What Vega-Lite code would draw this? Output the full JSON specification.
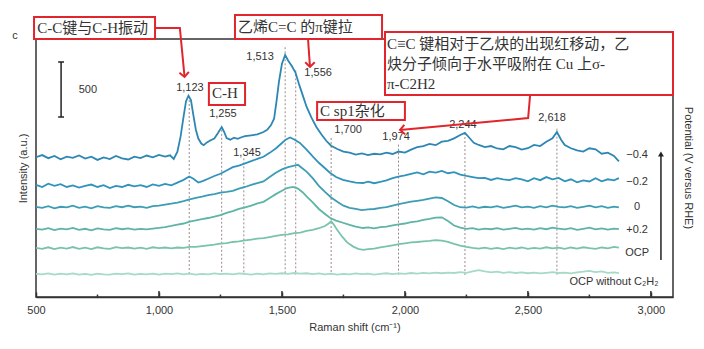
{
"$schema":"https://vega.github.io/schema/vega-lite/v6.json",
"width":637,"height":258,
"autosize":{"type":"none"},
"padding":{"left":36,"top":39,"right":31,"bottom":52},
"config":{"font":"Liberation Sans","view":{"stroke":"#333","strokeWidth":1.5},"axis":{"grid":false},
 "axisX":{"tickSize":-5,"tickColor":"#333","tickWidth":1.5,"labelPadding":12,"labelFontSize":11,"labelColor":"#333","labelFlush":false,"titleFontSize":11,"titleFontWeight":"normal","titleColor":"#333","titlePadding":6,"domainColor":"#333","domainWidth":1.5,"format":","},
 "axisY":{"labels":false,"ticks":false,"domain":false,"titleFontSize":11,"titleFontWeight":"normal","titleColor":"#333","titlePadding":8}},
"datasets":{
"a":[{"w":500,"v":1270},{"w":525,"v":1290},{"w":550,"v":1262},{"w":575,"v":1282},{"w":600,"v":1252},{"w":625,"v":1276},{"w":650,"v":1264},{"w":675,"v":1286},{"w":700,"v":1258},{"w":725,"v":1276},{"w":750,"v":1246},{"w":775,"v":1268},{"w":800,"v":1254},{"w":825,"v":1282},{"w":850,"v":1260},{"w":875,"v":1250},{"w":900,"v":1276},{"w":925,"v":1262},{"w":950,"v":1286},{"w":975,"v":1270},{"w":1000,"v":1292},{"w":1025,"v":1276},{"w":1045,"v":1288},{"w":1060,"v":1255},{"w":1075,"v":1320},{"w":1088,"v":1460},{"w":1100,"v":1640},{"w":1110,"v":1780},{"w":1120,"v":1830},{"w":1130,"v":1790},{"w":1140,"v":1650},{"w":1150,"v":1520},{"w":1160,"v":1440},{"w":1172,"v":1395},{"w":1182,"v":1380},{"w":1195,"v":1405},{"w":1210,"v":1425},{"w":1225,"v":1440},{"w":1240,"v":1490},{"w":1255,"v":1545},{"w":1265,"v":1500},{"w":1275,"v":1445},{"w":1290,"v":1430},{"w":1305,"v":1448},{"w":1320,"v":1438},{"w":1335,"v":1452},{"w":1350,"v":1462},{"w":1375,"v":1470},{"w":1400,"v":1478},{"w":1425,"v":1500},{"w":1440,"v":1520},{"w":1455,"v":1560},{"w":1468,"v":1620},{"w":1478,"v":1780},{"w":1488,"v":1960},{"w":1500,"v":2120},{"w":1513,"v":2200},{"w":1525,"v":2150},{"w":1540,"v":2100},{"w":1555,"v":2040},{"w":1570,"v":1930},{"w":1585,"v":1830},{"w":1600,"v":1730},{"w":1620,"v":1630},{"w":1640,"v":1545},{"w":1660,"v":1480},{"w":1680,"v":1420},{"w":1700,"v":1375},{"w":1725,"v":1345},{"w":1750,"v":1322},{"w":1775,"v":1312},{"w":1800,"v":1295},{"w":1825,"v":1305},{"w":1850,"v":1290},{"w":1875,"v":1302},{"w":1900,"v":1296},{"w":1925,"v":1312},{"w":1950,"v":1300},{"w":1974,"v":1322},{"w":2000,"v":1312},{"w":2025,"v":1340},{"w":2050,"v":1362},{"w":2075,"v":1372},{"w":2100,"v":1392},{"w":2125,"v":1380},{"w":2150,"v":1412},{"w":2175,"v":1420},{"w":2200,"v":1442},{"w":2225,"v":1472},{"w":2244,"v":1492},{"w":2260,"v":1452},{"w":2280,"v":1402},{"w":2300,"v":1382},{"w":2325,"v":1362},{"w":2350,"v":1372},{"w":2375,"v":1350},{"w":2400,"v":1342},{"w":2425,"v":1372},{"w":2450,"v":1362},{"w":2475,"v":1340},{"w":2500,"v":1352},{"w":2525,"v":1382},{"w":2550,"v":1372},{"w":2575,"v":1412},{"w":2600,"v":1442},{"w":2618,"v":1500},{"w":2635,"v":1430},{"w":2650,"v":1382},{"w":2675,"v":1352},{"w":2700,"v":1332},{"w":2725,"v":1322},{"w":2750,"v":1352},{"w":2775,"v":1342},{"w":2800,"v":1302},{"w":2825,"v":1312},{"w":2850,"v":1282},{"w":2870,"v":1232}],
"b":[{"w":500,"v":1020},{"w":525,"v":1000},{"w":550,"v":1030},{"w":575,"v":1010},{"w":600,"v":1025},{"w":625,"v":1000},{"w":650,"v":1015},{"w":675,"v":995},{"w":700,"v":1010},{"w":725,"v":1022},{"w":750,"v":1000},{"w":775,"v":1016},{"w":800,"v":990},{"w":825,"v":1010},{"w":850,"v":1000},{"w":875,"v":1020},{"w":900,"v":1005},{"w":925,"v":1016},{"w":950,"v":1000},{"w":975,"v":1024},{"w":1000,"v":1010},{"w":1025,"v":1028},{"w":1050,"v":1015},{"w":1075,"v":1040},{"w":1100,"v":1065},{"w":1123,"v":1095},{"w":1140,"v":1075},{"w":1160,"v":1040},{"w":1180,"v":1055},{"w":1200,"v":1075},{"w":1225,"v":1100},{"w":1250,"v":1120},{"w":1275,"v":1150},{"w":1300,"v":1180},{"w":1325,"v":1195},{"w":1350,"v":1215},{"w":1375,"v":1235},{"w":1400,"v":1255},{"w":1425,"v":1275},{"w":1450,"v":1310},{"w":1475,"v":1350},{"w":1500,"v":1400},{"w":1515,"v":1430},{"w":1533,"v":1450},{"w":1550,"v":1432},{"w":1573,"v":1400},{"w":1600,"v":1340},{"w":1626,"v":1275},{"w":1650,"v":1220},{"w":1675,"v":1170},{"w":1695,"v":1130},{"w":1720,"v":1090},{"w":1748,"v":1065},{"w":1775,"v":1050},{"w":1800,"v":1040},{"w":1830,"v":1036},{"w":1850,"v":1048},{"w":1875,"v":1034},{"w":1900,"v":1046},{"w":1925,"v":1060},{"w":1950,"v":1080},{"w":1974,"v":1095},{"w":2000,"v":1105},{"w":2025,"v":1120},{"w":2050,"v":1132},{"w":2075,"v":1115},{"w":2100,"v":1140},{"w":2125,"v":1130},{"w":2150,"v":1146},{"w":2175,"v":1125},{"w":2200,"v":1135},{"w":2225,"v":1112},{"w":2250,"v":1100},{"w":2275,"v":1090},{"w":2300,"v":1080},{"w":2325,"v":1082},{"w":2350,"v":1064},{"w":2375,"v":1080},{"w":2400,"v":1070},{"w":2425,"v":1062},{"w":2450,"v":1080},{"w":2475,"v":1070},{"w":2500,"v":1052},{"w":2525,"v":1080},{"w":2550,"v":1062},{"w":2575,"v":1090},{"w":2600,"v":1070},{"w":2625,"v":1082},{"w":2650,"v":1052},{"w":2675,"v":1070},{"w":2700,"v":1042},{"w":2725,"v":1060},{"w":2750,"v":1050},{"w":2775,"v":1080},{"w":2800,"v":1052},{"w":2825,"v":1070},{"w":2850,"v":1060},{"w":2870,"v":1080}],
"c":[{"w":500,"v":820},{"w":525,"v":810},{"w":550,"v":826},{"w":575,"v":806},{"w":600,"v":820},{"w":625,"v":814},{"w":650,"v":830},{"w":675,"v":810},{"w":700,"v":822},{"w":725,"v":806},{"w":750,"v":826},{"w":775,"v":814},{"w":800,"v":810},{"w":825,"v":826},{"w":850,"v":816},{"w":875,"v":830},{"w":900,"v":816},{"w":925,"v":822},{"w":950,"v":810},{"w":975,"v":826},{"w":1000,"v":830},{"w":1025,"v":840},{"w":1050,"v":848},{"w":1075,"v":858},{"w":1100,"v":872},{"w":1125,"v":888},{"w":1150,"v":902},{"w":1175,"v":912},{"w":1200,"v":925},{"w":1225,"v":935},{"w":1250,"v":948},{"w":1275,"v":955},{"w":1300,"v":965},{"w":1325,"v":985},{"w":1350,"v":1000},{"w":1375,"v":1020},{"w":1400,"v":1035},{"w":1425,"v":1050},{"w":1450,"v":1090},{"w":1475,"v":1130},{"w":1500,"v":1160},{"w":1525,"v":1180},{"w":1550,"v":1195},{"w":1565,"v":1202},{"w":1580,"v":1175},{"w":1600,"v":1140},{"w":1625,"v":1080},{"w":1650,"v":1010},{"w":1675,"v":955},{"w":1700,"v":905},{"w":1725,"v":865},{"w":1750,"v":830},{"w":1775,"v":810},{"w":1800,"v":800},{"w":1825,"v":790},{"w":1850,"v":796},{"w":1875,"v":800},{"w":1900,"v":810},{"w":1925,"v":816},{"w":1950,"v":830},{"w":1975,"v":845},{"w":2000,"v":855},{"w":2025,"v":866},{"w":2050,"v":874},{"w":2075,"v":882},{"w":2100,"v":895},{"w":2125,"v":906},{"w":2150,"v":900},{"w":2175,"v":870},{"w":2200,"v":836},{"w":2225,"v":816},{"w":2250,"v":812},{"w":2275,"v":824},{"w":2300,"v":810},{"w":2325,"v":820},{"w":2350,"v":814},{"w":2375,"v":826},{"w":2400,"v":810},{"w":2425,"v":820},{"w":2450,"v":830},{"w":2475,"v":815},{"w":2500,"v":822},{"w":2525,"v":810},{"w":2550,"v":826},{"w":2575,"v":815},{"w":2600,"v":830},{"w":2625,"v":820},{"w":2650,"v":814},{"w":2675,"v":826},{"w":2700,"v":810},{"w":2725,"v":820},{"w":2750,"v":830},{"w":2775,"v":815},{"w":2800,"v":825},{"w":2825,"v":810},{"w":2850,"v":822},{"w":2870,"v":815}],
"d":[{"w":500,"v":620},{"w":525,"v":612},{"w":550,"v":626},{"w":575,"v":608},{"w":600,"v":622},{"w":625,"v":614},{"w":650,"v":628},{"w":675,"v":610},{"w":700,"v":620},{"w":725,"v":606},{"w":750,"v":624},{"w":775,"v":614},{"w":800,"v":610},{"w":825,"v":626},{"w":850,"v":616},{"w":875,"v":624},{"w":900,"v":612},{"w":925,"v":620},{"w":950,"v":614},{"w":975,"v":622},{"w":1000,"v":628},{"w":1025,"v":636},{"w":1050,"v":646},{"w":1075,"v":658},{"w":1100,"v":668},{"w":1125,"v":684},{"w":1150,"v":696},{"w":1175,"v":708},{"w":1200,"v":718},{"w":1225,"v":730},{"w":1250,"v":745},{"w":1275,"v":765},{"w":1300,"v":780},{"w":1325,"v":800},{"w":1350,"v":815},{"w":1375,"v":830},{"w":1400,"v":850},{"w":1425,"v":865},{"w":1450,"v":900},{"w":1475,"v":935},{"w":1500,"v":965},{"w":1520,"v":990},{"w":1545,"v":1000},{"w":1565,"v":985},{"w":1585,"v":950},{"w":1600,"v":915},{"w":1625,"v":860},{"w":1650,"v":800},{"w":1675,"v":755},{"w":1695,"v":720},{"w":1720,"v":695},{"w":1748,"v":675},{"w":1775,"v":655},{"w":1800,"v":640},{"w":1830,"v":627},{"w":1850,"v":632},{"w":1875,"v":624},{"w":1900,"v":636},{"w":1925,"v":640},{"w":1950,"v":652},{"w":1975,"v":660},{"w":2000,"v":668},{"w":2025,"v":680},{"w":2050,"v":688},{"w":2075,"v":700},{"w":2100,"v":710},{"w":2125,"v":722},{"w":2150,"v":724},{"w":2175,"v":690},{"w":2200,"v":650},{"w":2225,"v":630},{"w":2250,"v":620},{"w":2275,"v":626},{"w":2300,"v":612},{"w":2325,"v":622},{"w":2350,"v":616},{"w":2375,"v":626},{"w":2400,"v":612},{"w":2425,"v":620},{"w":2450,"v":628},{"w":2475,"v":614},{"w":2500,"v":622},{"w":2525,"v":612},{"w":2550,"v":626},{"w":2575,"v":616},{"w":2600,"v":630},{"w":2625,"v":622},{"w":2650,"v":614},{"w":2675,"v":626},{"w":2700,"v":610},{"w":2725,"v":620},{"w":2750,"v":630},{"w":2775,"v":614},{"w":2800,"v":624},{"w":2825,"v":612},{"w":2850,"v":622},{"w":2870,"v":616}],
"e":[{"w":500,"v":446},{"w":525,"v":438},{"w":550,"v":452},{"w":575,"v":436},{"w":600,"v":448},{"w":625,"v":440},{"w":650,"v":454},{"w":675,"v":438},{"w":700,"v":448},{"w":725,"v":436},{"w":750,"v":452},{"w":775,"v":442},{"w":800,"v":438},{"w":825,"v":454},{"w":850,"v":444},{"w":875,"v":450},{"w":900,"v":440},{"w":925,"v":448},{"w":950,"v":438},{"w":975,"v":452},{"w":1000,"v":444},{"w":1025,"v":450},{"w":1050,"v":442},{"w":1075,"v":450},{"w":1100,"v":446},{"w":1125,"v":456},{"w":1150,"v":455},{"w":1175,"v":462},{"w":1200,"v":470},{"w":1225,"v":476},{"w":1250,"v":485},{"w":1275,"v":490},{"w":1300,"v":500},{"w":1325,"v":506},{"w":1350,"v":515},{"w":1375,"v":522},{"w":1400,"v":530},{"w":1425,"v":536},{"w":1450,"v":545},{"w":1475,"v":555},{"w":1500,"v":564},{"w":1525,"v":570},{"w":1550,"v":580},{"w":1575,"v":586},{"w":1600,"v":600},{"w":1625,"v":610},{"w":1650,"v":625},{"w":1675,"v":645},{"w":1690,"v":668},{"w":1700,"v":688},{"w":1712,"v":655},{"w":1725,"v":608},{"w":1745,"v":548},{"w":1765,"v":496},{"w":1790,"v":458},{"w":1810,"v":438},{"w":1830,"v":428},{"w":1850,"v":436},{"w":1875,"v":440},{"w":1900,"v":452},{"w":1925,"v":460},{"w":1950,"v":470},{"w":1975,"v":480},{"w":2000,"v":488},{"w":2025,"v":496},{"w":2050,"v":500},{"w":2075,"v":506},{"w":2100,"v":510},{"w":2125,"v":516},{"w":2150,"v":512},{"w":2175,"v":500},{"w":2200,"v":482},{"w":2225,"v":466},{"w":2250,"v":455},{"w":2275,"v":446},{"w":2300,"v":440},{"w":2325,"v":448},{"w":2350,"v":438},{"w":2375,"v":446},{"w":2400,"v":436},{"w":2425,"v":448},{"w":2450,"v":440},{"w":2475,"v":450},{"w":2500,"v":438},{"w":2525,"v":446},{"w":2550,"v":440},{"w":2575,"v":452},{"w":2600,"v":442},{"w":2625,"v":448},{"w":2650,"v":438},{"w":2675,"v":450},{"w":2700,"v":440},{"w":2725,"v":452},{"w":2750,"v":444},{"w":2775,"v":438},{"w":2800,"v":450},{"w":2825,"v":442},{"w":2850,"v":456},{"w":2870,"v":448}],
"f":[{"w":500,"v":210},{"w":525,"v":205},{"w":550,"v":214},{"w":575,"v":204},{"w":600,"v":212},{"w":625,"v":206},{"w":650,"v":214},{"w":675,"v":204},{"w":700,"v":210},{"w":725,"v":202},{"w":750,"v":212},{"w":775,"v":206},{"w":800,"v":204},{"w":825,"v":212},{"w":850,"v":208},{"w":875,"v":214},{"w":900,"v":204},{"w":925,"v":210},{"w":950,"v":206},{"w":975,"v":212},{"w":1000,"v":204},{"w":1025,"v":212},{"w":1050,"v":208},{"w":1075,"v":214},{"w":1100,"v":206},{"w":1125,"v":212},{"w":1150,"v":204},{"w":1175,"v":210},{"w":1200,"v":206},{"w":1225,"v":214},{"w":1250,"v":208},{"w":1275,"v":212},{"w":1300,"v":206},{"w":1325,"v":214},{"w":1350,"v":210},{"w":1375,"v":204},{"w":1400,"v":212},{"w":1425,"v":206},{"w":1450,"v":214},{"w":1475,"v":210},{"w":1500,"v":216},{"w":1525,"v":210},{"w":1550,"v":218},{"w":1575,"v":212},{"w":1600,"v":216},{"w":1625,"v":208},{"w":1650,"v":214},{"w":1675,"v":206},{"w":1700,"v":212},{"w":1725,"v":204},{"w":1750,"v":210},{"w":1775,"v":206},{"w":1800,"v":214},{"w":1825,"v":208},{"w":1850,"v":212},{"w":1875,"v":204},{"w":1900,"v":210},{"w":1925,"v":216},{"w":1950,"v":208},{"w":1975,"v":214},{"w":2000,"v":210},{"w":2025,"v":218},{"w":2050,"v":212},{"w":2075,"v":220},{"w":2100,"v":214},{"w":2125,"v":222},{"w":2150,"v":216},{"w":2175,"v":222},{"w":2200,"v":218},{"w":2225,"v":226},{"w":2250,"v":220},{"w":2275,"v":232},{"w":2300,"v":244},{"w":2325,"v":232},{"w":2350,"v":224},{"w":2375,"v":230},{"w":2400,"v":220},{"w":2425,"v":226},{"w":2450,"v":218},{"w":2475,"v":224},{"w":2500,"v":216},{"w":2525,"v":222},{"w":2550,"v":214},{"w":2575,"v":220},{"w":2600,"v":226},{"w":2625,"v":218},{"w":2650,"v":222},{"w":2675,"v":214},{"w":2700,"v":224},{"w":2725,"v":230},{"w":2750,"v":238},{"w":2775,"v":226},{"w":2800,"v":232},{"w":2825,"v":220},{"w":2850,"v":224},{"w":2870,"v":216}],
"peaks":[{"w":1123,"top":1790,"bot":200,"lw":1126,"lv":1900,"label":"1,123"},{"w":1255,"top":1520,"bot":200,"lw":1260,"lv":1664,"label":"1,255"},{"w":1345,"top":1260,"bot":200,"lw":1358,"lv":1309,"label":"1,345"},{"w":1513,"top":2270,"bot":200,"lw":1411,"lv":2182,"label":"1,513"},{"w":1556,"top":2060,"bot":200,"lw":1647,"lv":2036,"label":"1,556"},{"w":1700,"top":1445,"bot":200,"lw":1769,"lv":1518,"label":"1,700"},{"w":1974,"top":1385,"bot":200,"lw":1964,"lv":1455,"label":"1,974"},{"w":2244,"top":1490,"bot":200,"lw":2236,"lv":1564,"label":"2,244"},{"w":2618,"top":1530,"bot":200,"lw":2598,"lv":1627,"label":"2,618"}],
"pot":[{"w":2944,"v":1291,"t":"−0.4"},{"w":2944,"v":1046,"t":"−0.2"},{"w":2944,"v":818,"t":"0"},{"w":2944,"v":609,"t":"+0.2"},{"w":2944,"v":400,"t":"OCP"},{"w":2850,"v":137,"t":"OCP without C₂H₂"}],
"axticks":[{"w":1000,"lo":0,"hi":55},{"w":1500,"lo":0,"hi":55},{"w":2000,"lo":0,"hi":55},{"w":2500,"lo":0,"hi":55},{"w":3000,"lo":0,"hi":55},{"w":750,"lo":-10,"hi":22},{"w":1250,"lo":-10,"hi":22},{"w":1750,"lo":-10,"hi":22},{"w":2250,"lo":-10,"hi":22},{"w":2750,"lo":-10,"hi":22}],
"blackrules":[{"x1":602,"x2":602,"y1":1636,"y2":2136},{"x1":590,"x2":614,"y1":2136,"y2":2136},{"x1":590,"x2":614,"y1":1636,"y2":1636},{"x1":3041,"x2":3041,"y1":336,"y2":1300}],
"plaintext":[{"w":711,"v":1882,"t":"500","wt":"normal","a":0,"fs":11},{"w":415,"v":2372,"t":"c","wt":"bold","a":0,"fs":13},{"w":3151,"v":1173,"t":"Potential (V versus RHE)","wt":"normal","a":90,"fs":11}],
"boxes":[{"x1":492,"x2":984,"y1":2545,"y2":2345},{"x1":1309,"x2":1907,"y1":2564,"y2":2345},{"x1":1203,"x2":1350,"y1":1945,"y2":1746},{"x1":1643,"x2":2000,"y1":1773,"y2":1609},{"x1":1919,"x2":3090,"y1":2409,"y2":1836}],
"boxtext":[{"w":505,"v":2445,"t":"C-C键与C-H振动"},{"w":1321,"v":2455,"t":"乙烯C=C 的π键拉"},{"w":1216,"v":1850,"t":"C-H"},{"w":1655,"v":1691,"t":"C sp1杂化"},{"w":1927,"v":2300,"t":"C≡C 键相对于乙炔的出现红移动，乙"},{"w":1927,"v":2118,"t":"炔分子倾向于水平吸附在 Cu 上σ-"},{"w":1927,"v":1936,"t":"π-C2H2"}],
"arrows":[{"id":"a","o":1,"x":984,"y":2445},{"id":"a","o":2,"x":1085,"y":2445},{"id":"a","o":3,"x":1104,"y":2000},{"id":"b","o":1,"x":1606,"y":2345},{"id":"b","o":2,"x":1614,"y":2091},{"id":"c","o":1,"x":2509,"y":1836},{"id":"c","o":2,"x":2501,"y":1627},{"id":"c","o":3,"x":1980,"y":1518}],
"heads":[{"x":1104,"y":2000,"ang":-5},{"x":1614,"y":2091,"ang":0},{"x":1980,"y":1518,"ang":85}]
},
"layer":[
{"data":{"name":"peaks"},"mark":{"type":"rule","color":"#9a8a8a","strokeWidth":1,"strokeDash":[2,2]},
 "encoding":{"x":{"field":"w","type":"quantitative","scale":{"domain":[500,3090],"nice":false,"zero":false},
   "axis":{"title":"Raman shift (cm⁻¹)","values":[500,1000,1500,2000,2500,3000],"format":",","labelExpr":"format(datum.value, ',')"}},
  "y":{"field":"top","type":"quantitative","scale":{"domain":[0,2345],"nice":false,"zero":false},
   "axis":{"title":"Intensity (a.u.)"}},
  "y2":{"field":"bot"}}},
{"data":{"name":"axticks"},"mark":{"type":"rule","color":"#333","strokeWidth":1.5},
 "encoding":{"x":{"field":"w","type":"quantitative"},
  "y":{"field":"lo","type":"quantitative"},"y2":{"field":"hi"}}},
{"data":{"name":"f"},"mark":{"type":"line","color":"#a5dac5","strokeWidth":1.8},
 "encoding":{"x":{"field":"w","type":"quantitative"},"y":{"field":"v","type":"quantitative"}}},
{"data":{"name":"e"},"mark":{"type":"line","color":"#79c3ae","strokeWidth":1.8},
 "encoding":{"x":{"field":"w","type":"quantitative"},"y":{"field":"v","type":"quantitative"}}},
{"data":{"name":"d"},"mark":{"type":"line","color":"#5eb4a6","strokeWidth":1.8},
 "encoding":{"x":{"field":"w","type":"quantitative"},"y":{"field":"v","type":"quantitative"}}},
{"data":{"name":"c"},"mark":{"type":"line","color":"#3d9db5","strokeWidth":1.8},
 "encoding":{"x":{"field":"w","type":"quantitative"},"y":{"field":"v","type":"quantitative"}}},
{"data":{"name":"b"},"mark":{"type":"line","color":"#3193bb","strokeWidth":1.8},
 "encoding":{"x":{"field":"w","type":"quantitative"},"y":{"field":"v","type":"quantitative"}}},
{"data":{"name":"a"},"mark":{"type":"line","color":"#2c87b4","strokeWidth":1.8},
 "encoding":{"x":{"field":"w","type":"quantitative"},"y":{"field":"v","type":"quantitative"}}},
{"data":{"name":"peaks"},"mark":{"type":"text","fontSize":11,"color":"#333","align":"center","baseline":"middle"},
 "encoding":{"x":{"field":"lw","type":"quantitative"},"y":{"field":"lv","type":"quantitative"},"text":{"field":"label"}}},
{"data":{"name":"pot"},"mark":{"type":"text","fontSize":11,"color":"#333","align":"center","baseline":"middle"},
 "encoding":{"x":{"field":"w","type":"quantitative"},"y":{"field":"v","type":"quantitative"},"text":{"field":"t"}}},
{"data":{"name":"blackrules"},"mark":{"type":"rule","color":"#222","strokeWidth":1.5},
 "encoding":{"x":{"field":"x1","type":"quantitative"},"x2":{"field":"x2"},"y":{"field":"y1","type":"quantitative"},"y2":{"field":"y2"}}},
{"data":{"values":[{"x":3041,"y":1300}]},"mark":{"type":"point","shape":"triangle-up","filled":true,"color":"#222","size":35,"opacity":1},
 "encoding":{"x":{"field":"x","type":"quantitative"},"y":{"field":"y","type":"quantitative"}}},
{"data":{"name":"plaintext"},"mark":{"type":"text","color":"#333","align":"center","baseline":"middle"},
 "encoding":{"x":{"field":"w","type":"quantitative"},"y":{"field":"v","type":"quantitative"},"text":{"field":"t"},"fontWeight":{"field":"wt","type":"nominal","scale":null},"fontSize":{"field":"fs","type":"quantitative","scale":null},"angle":{"field":"a","type":"quantitative","scale":null}}},
{"data":{"name":"boxes"},"mark":{"type":"rect","fill":"white","stroke":"#e0262c","strokeWidth":2},
 "encoding":{"x":{"field":"x1","type":"quantitative"},"x2":{"field":"x2"},"y":{"field":"y1","type":"quantitative"},"y2":{"field":"y2"}}},
{"data":{"name":"boxtext"},"mark":{"type":"text","fontSize":15,"font":"Liberation Serif, Noto Sans CJK SC","color":"#333","align":"left","baseline":"middle"},
 "encoding":{"x":{"field":"w","type":"quantitative"},"y":{"field":"v","type":"quantitative"},"text":{"field":"t"}}},
{"data":{"name":"arrows"},"mark":{"type":"line","color":"#e0262c","strokeWidth":2},
 "encoding":{"x":{"field":"x","type":"quantitative"},"y":{"field":"y","type":"quantitative"},"detail":{"field":"id"},"order":{"field":"o"}}},
{"data":{"name":"heads"},"mark":{"type":"point","shape":"M-1,-1L0,0L1,-1","filled":false,"color":"#e0262c","strokeWidth":2,"size":90,"opacity":1},
 "encoding":{"x":{"field":"x","type":"quantitative"},"y":{"field":"y","type":"quantitative"},"angle":{"field":"ang","type":"quantitative","scale":null}}}
]
}
